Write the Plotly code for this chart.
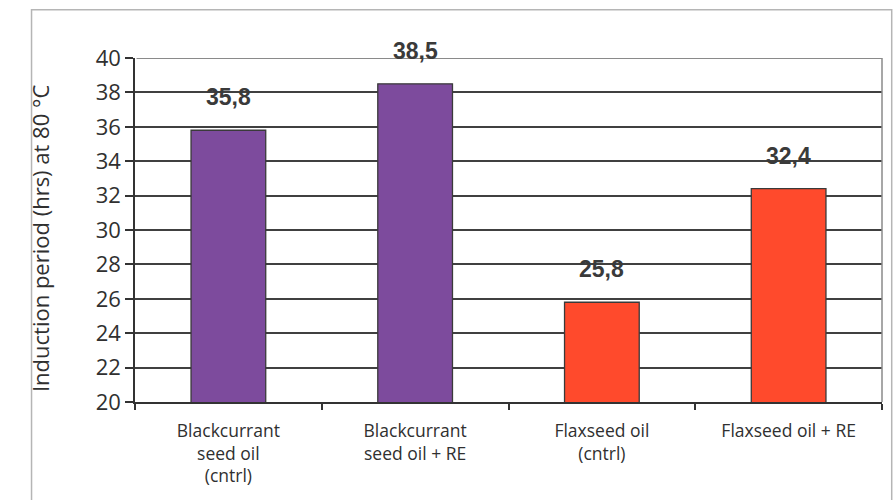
import plotly.graph_objects as go

# Induction period of oils at 80 °C, with and without rosemary extract (RE)
categories = [
    "Blackcurrant<br>seed oil<br>(cntrl)",
    "Blackcurrant<br>seed oil + RE",
    "Flaxseed oil<br>(cntrl)",
    "Flaxseed oil + RE",
]
induction_hrs = [35.8, 38.5, 25.8, 32.4]
bar_colors = ["#7D4B9D", "#7D4B9D", "#FF4A2C", "#FF4A2C"]
value_labels = [f"{v:.1f}".replace(".", ",") for v in induction_hrs]
y_ticks = list(range(20, 41, 2))
y_title = "Induction period (hrs) at 80 °C"

fig = go.Figure()
fig.add_trace(go.Bar(
    x=categories,
    y=induction_hrs,
    marker=dict(color=bar_colors, line=dict(color="#3a3a3a", width=1.3)),
    width=0.4,
    hoverinfo="skip",
))

# value labels floating above each bar
for cat, val, lab in zip(categories, induction_hrs, value_labels):
    fig.add_annotation(
        x=cat, y=val, text=f"<b>{lab}</b>", showarrow=False,
        yshift=33, font=dict(family="Liberation Sans, Arial", size=23, color="#3a3a3a"),
    )

# vertical axis title
fig.add_annotation(
    xref="paper", yref="paper", x=-0.127, y=0.474, text=y_title,
    textangle=-90, showarrow=False, xanchor="center", yanchor="middle",
    font=dict(size=22, color="#303030"),
)

# lighter top and right edges of the plot area
fig.add_shape(type="line", xref="x domain", yref="y", x0=1, x1=1, y0=20, y1=40,
              line=dict(color="#8a8a8a", width=1.5))
fig.add_shape(type="line", xref="x domain", yref="y", x0=0.002, x1=1, y0=40, y1=40,
              line=dict(color="#8a8a8a", width=1.8))
# outer frame of the figure
fig.add_shape(type="rect", xref="paper", yref="paper",
              x0=-0.1385, x1=1.013, y0=-0.36, y1=1.14,
              line=dict(color="#b5b5b5", width=1.5))

fig.update_layout(
    width=895, height=500,
    margin=dict(l=135, r=13, t=58, b=98),
    paper_bgcolor="white", plot_bgcolor="white",
    showlegend=False,
    font=dict(family="Open Sans, Noto Sans", color="#333333"),
)
fig.update_xaxes(
    showline=True, linecolor="#333333", linewidth=1.6,
    ticks="outside", ticklen=6, tickcolor="#333333", tickwidth=1.5,
    tickson="boundaries",
    ticklabelstandoff=12,
    tickfont=dict(size=17.5, color="#303030"),
    showgrid=False,
)
fig.update_yaxes(
    range=[20, 40], tickvals=y_ticks,
    showline=True, linecolor="#333333", linewidth=1.6,
    ticks="outside", ticklen=8, tickcolor="#333333", tickwidth=1.5,
    gridcolor="#404040", gridwidth=1.6,
    tickfont=dict(size=22, color="#303030"),
    zeroline=False,
)

fig.write_html("out.html")
